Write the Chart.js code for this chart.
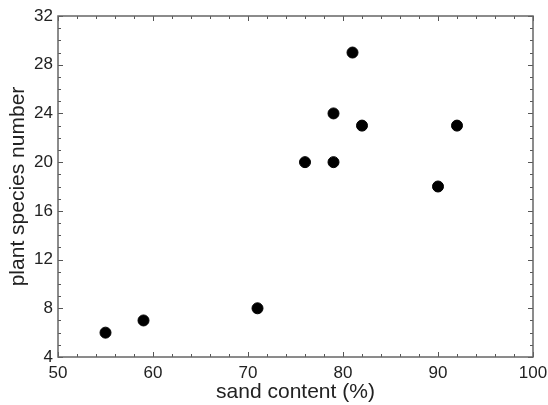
<!DOCTYPE html>
<html>
<head>
<meta charset="utf-8">
<script src="https://cdn.jsdelivr.net/npm/chart.js@4"></script>
<style>
    html, body { margin: 0; padding: 0; background: #fff; }
</style>
</head>
<body>
<canvas id="chart" width="548" height="405"></canvas>
<script>
// values
const sandContent = [55, 59, 71, 76, 79, 79, 81, 82, 90, 92];
const speciesNumber = [6, 7, 8, 20, 24, 20, 29, 23, 18, 23];
const xRange = [50, 100];
const yRange = [4, 32];
const xStep = 10, xMinorStep = 2;
const yStep = 4, yMinorStep = 1;

const tickFont = { family: 'Liberation Sans, Arial', size: 17 };
const titleFont = { family: 'Liberation Sans, Arial', size: 21 };

// inward ticks on all four sides plus the frame
const frameTicks = {
    id: 'frameTicks',
    afterDraw(chart) {
        const { ctx, chartArea: a, scales: { x, y } } = chart;
        ctx.save();
        ctx.strokeStyle = '#555';
        ctx.lineWidth = 1;
        ctx.beginPath();
        for (let v = xRange[0]; v <= xRange[1]; v += xMinorStep) {
            const px = Math.round(x.getPixelForValue(v)) + 0.5;
            const len = v % xStep === 0 ? 5 : 3;
            ctx.moveTo(px, a.bottom); ctx.lineTo(px, a.bottom - len);
            ctx.moveTo(px, a.top); ctx.lineTo(px, a.top + len);
        }
        for (let v = yRange[0]; v <= yRange[1]; v += yMinorStep) {
            const py = Math.round(y.getPixelForValue(v)) + 0.5;
            const len = v % yStep === 0 ? 5 : 3;
            ctx.moveTo(a.left, py); ctx.lineTo(a.left + len, py);
            ctx.moveTo(a.right, py); ctx.lineTo(a.right - len, py);
        }
        ctx.stroke();
        ctx.strokeStyle = '#666';
        ctx.lineWidth = 1.5;
        ctx.strokeRect(a.left, a.top, a.right - a.left, a.bottom - a.top);
        ctx.restore();
    }
};

new Chart(document.getElementById('chart'), {
    type: 'scatter',
    data: {
        datasets: [{
            data: sandContent.map((s, i) => ({ x: s, y: speciesNumber[i] })),
            backgroundColor: '#000',
            borderColor: '#000',
            pointRadius: 5.5,
            pointHoverRadius: 5.5
        }]
    },
    options: {
        responsive: false,
        animation: false,
        layout: { padding: { top: 16, right: 15, left: 0, bottom: 0 } },
        plugins: { legend: { display: false }, tooltip: { enabled: false } },
        scales: {
            x: {
                type: 'linear',
                min: xRange[0],
                max: xRange[1],
                afterFit: s => { s.height = 48; s.paddingLeft = 0; s.paddingRight = 0; },
                grid: { display: false, drawTicks: false, tickLength: 0 },
                border: { display: false },
                ticks: { stepSize: xStep, padding: 6, color: '#222', font: tickFont },
                title: {
                    display: true,
                    text: 'sand content (%)',
                    color: '#222',
                    padding: { top: 0, bottom: 0 },
                    font: titleFont
                }
            },
            y: {
                min: yRange[0],
                max: yRange[1],
                afterFit: s => { s.width = 58; s.paddingTop = 0; s.paddingBottom = 0; },
                grid: { display: false, drawTicks: false, tickLength: 0 },
                border: { display: false },
                ticks: { stepSize: yStep, padding: 5, color: '#222', font: tickFont },
                title: {
                    display: true,
                    text: 'plant species number',
                    color: '#222',
                    padding: { top: 6, bottom: 6 },
                    font: titleFont
                }
            }
        }
    },
    plugins: [frameTicks]
});
</script>
</body>
</html>
